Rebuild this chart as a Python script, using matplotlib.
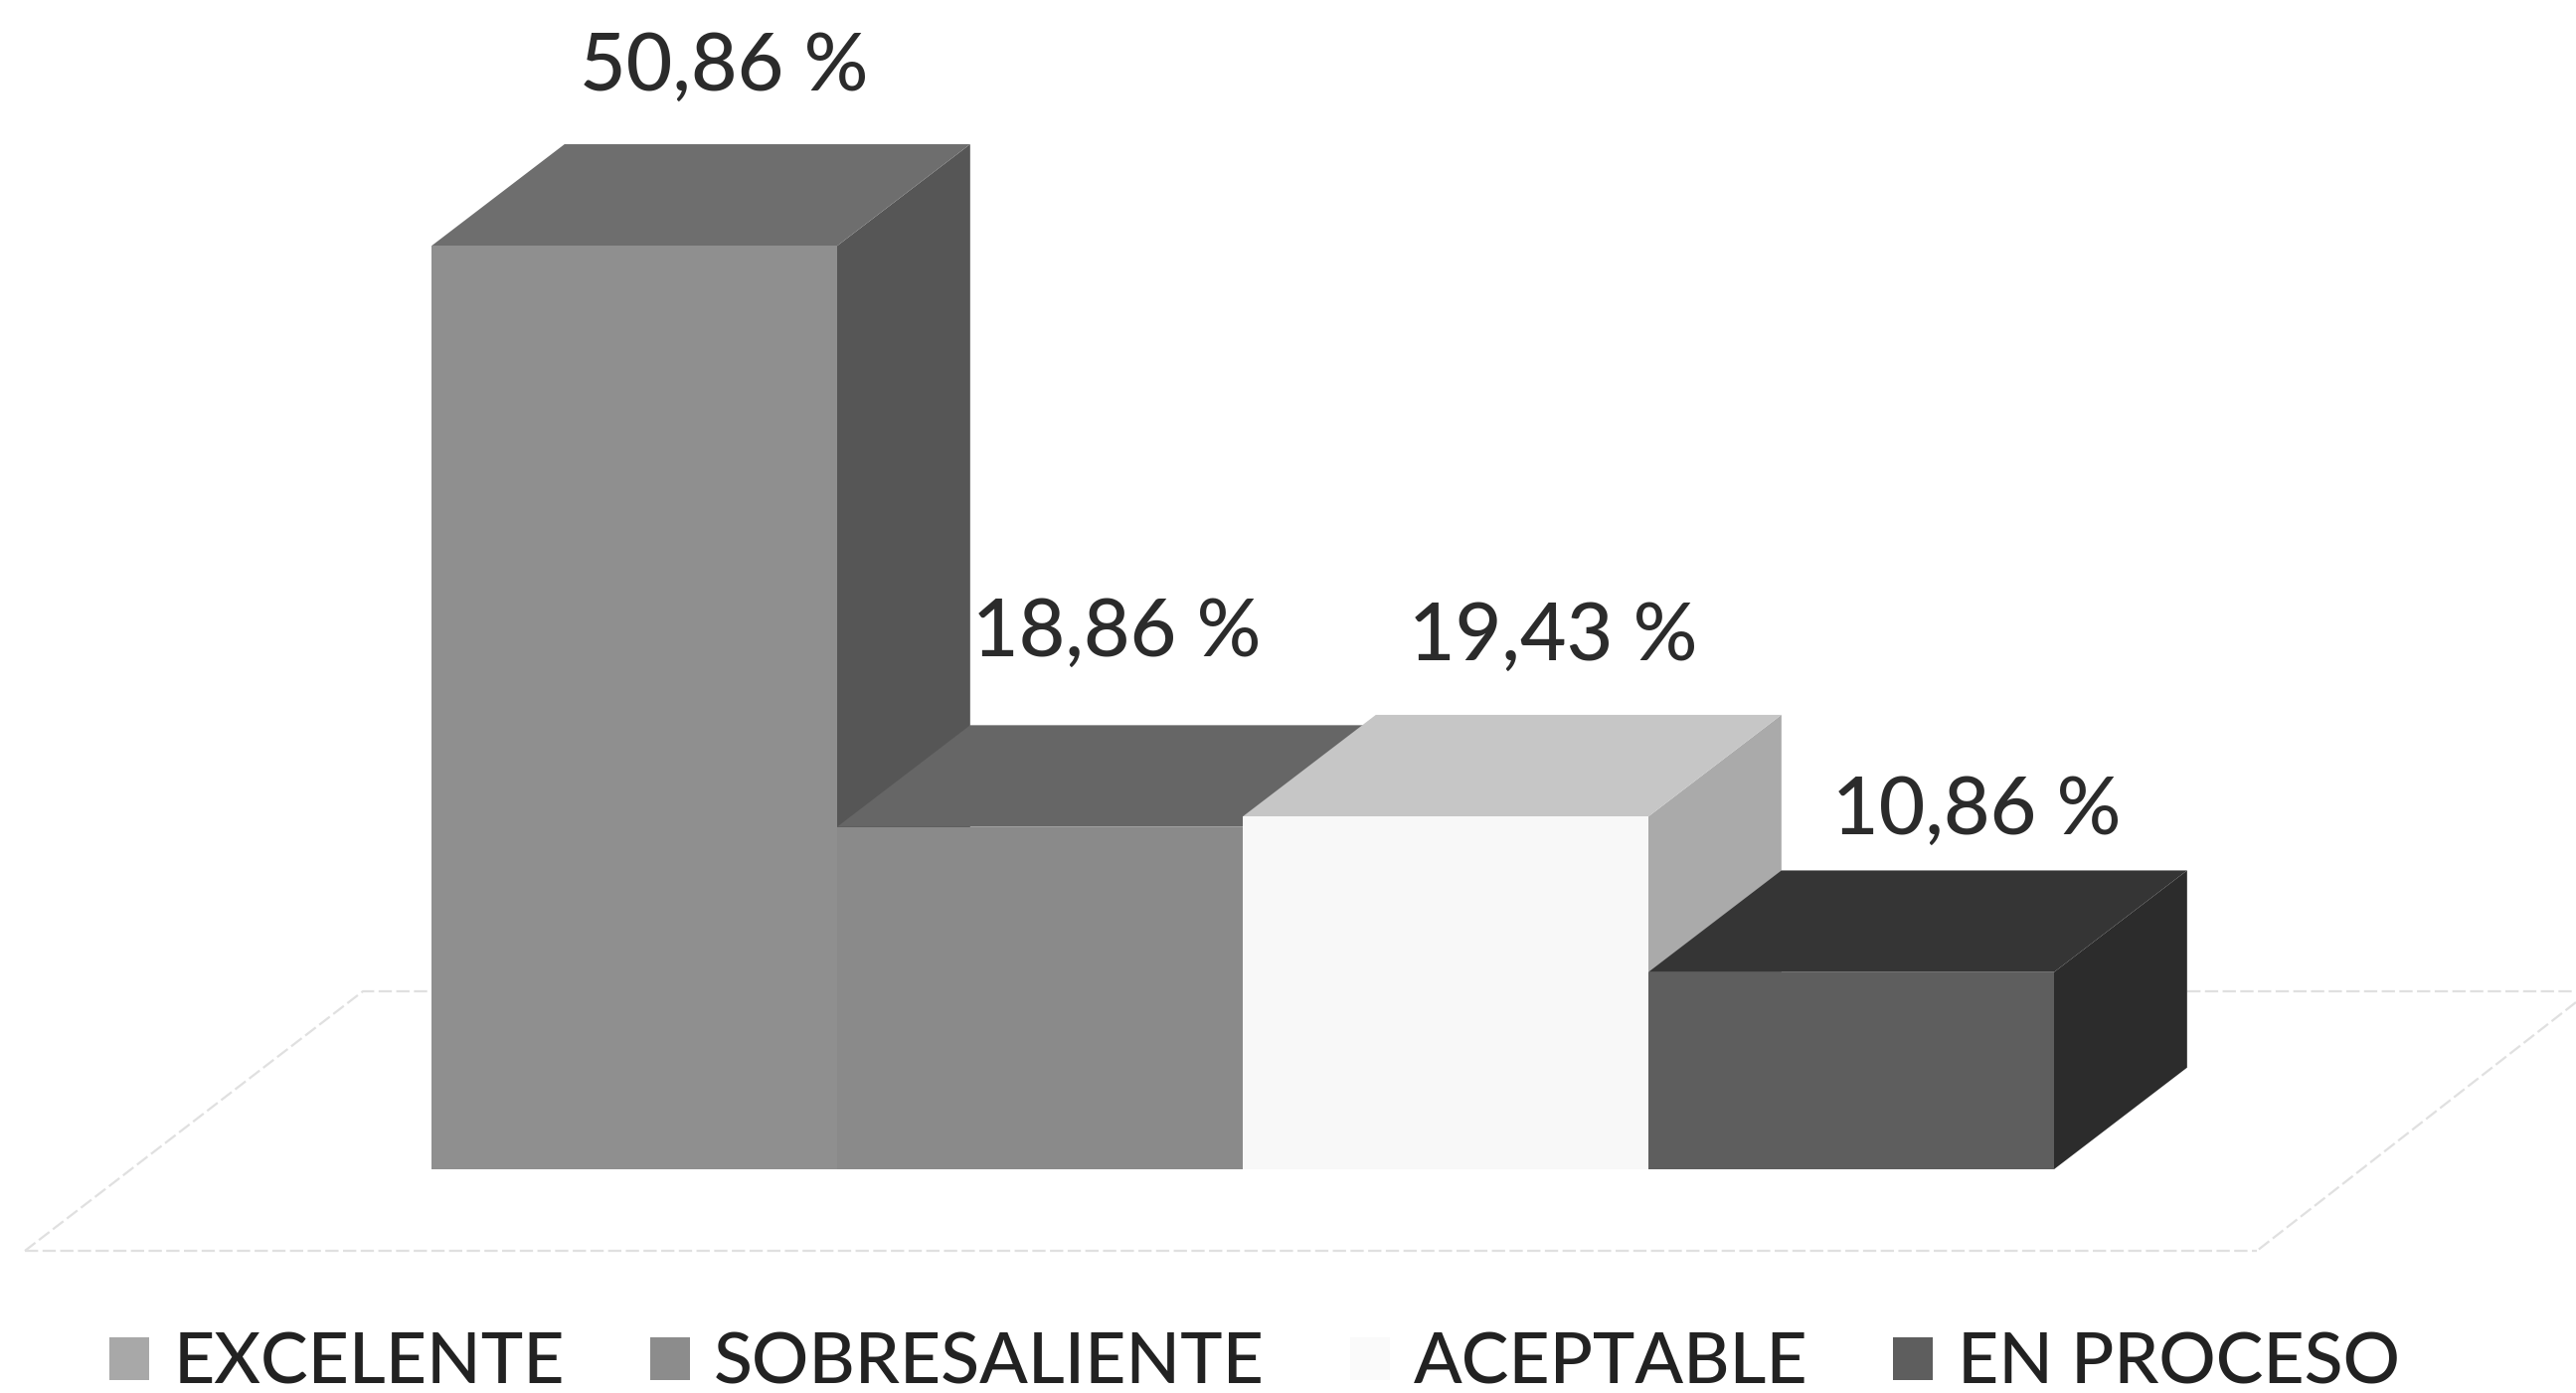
#!/usr/bin/env python3
"""Pseudo-3D bar chart of achievement levels, scanned look."""

import matplotlib
matplotlib.use("Agg")
import matplotlib.pyplot as plt
from matplotlib.patches import Patch, Polygon

categories = ["EXCELENTE", "SOBRESALIENTE", "ACEPTABLE", "EN PROCESO"]
values = [50.86, 18.86, 19.43, 10.86]
value_labels = ["50,86 %", "18,86 %", "19,43 %", "10,86 %"]

front_colors = ["#8f8f8f", "#8a8a8a", "#f8f8f8", "#5e5e5e"]
top_colors = ["#6e6e6e", "#666666", "#c6c6c6", "#353535"]
side_colors = ["#565656", "#555555", "#aaaaaa", "#2c2c2c"]
legend_colors = ["#a8a8a8", "#8c8c8c", "#fafafa", "#5e5e5e"]

W, H = 2591, 1401
# pixel geometry of the plot, full-size reference
X0, UNIT = 638, 408
Y0, PCT = 1176, 18.26
DX, DY = 0.328, 5.6
LABEL_DX = [0.22, 0.19, 0.265, 0.31]
LABEL_DY = [9.85, 10.65, 9.9, 8.85]

plt.rcParams["font.family"] = ["Lato", "DejaVu Sans"]

fig = plt.figure(figsize=(W / 100, H / 100), dpi=100, facecolor="white")

# floor outline, very faint in the scan
bg = fig.add_axes([0, 0, 1, 1], zorder=0)
bg.set_xlim(0, W)
bg.set_ylim(H, 0)
bg.axis("off")
floor_style = dict(color="#e0e0e0", lw=1.6, ls=(0, (6, 2)))
bg.plot([25, 2270], [1258, 1258], **floor_style)
bg.plot([25, 365, 435], [1258, 997, 997], **floor_style)
bg.plot([2200, 2591], [997, 997], **floor_style)
bg.plot([2591, 2270], [1008, 1258], **floor_style)

ax = fig.add_axes([0, 0, 1, 1], zorder=1)
ax.patch.set_alpha(0)
ax.set_xlim(-X0 / UNIT, (W - X0) / UNIT)
ax.set_ylim(-(H - Y0) / PCT, Y0 / PCT)
ax.axis("off")

for i, v in enumerate(values):
    left, right = i - 0.5, i + 0.5
    ax.add_patch(Polygon([(right, 0), (right + DX, DY), (right + DX, v + DY), (right, v)],
                         fc=side_colors[i], ec="none"))
    ax.add_patch(Polygon([(left, v), (left + DX, v + DY), (right + DX, v + DY), (right, v)],
                         fc=top_colors[i], ec="none"))
    ax.bar(i, v, width=1.0, color=front_colors[i], lw=0)
    ax.text(i + LABEL_DX[i], v + LABEL_DY[i], value_labels[i], ha="center", va="center",
            fontsize=58, color="#2b2b2b", fontweight="medium")

handles = [Patch(fc=c, ec="none") for c in legend_colors]
leg = ax.legend(handles, categories, ncol=4, loc="center", bbox_to_anchor=(0.487, 0.0208),
                bbox_transform=fig.transFigure, frameon=False, fontsize=51.5,
                labelcolor="#222222", handlelength=0.56, handleheight=0.56,
                handletextpad=0.34, columnspacing=1.2)
for t in leg.get_texts():
    t.set_fontweight("medium")

fig.savefig("out.png", dpi=100)
